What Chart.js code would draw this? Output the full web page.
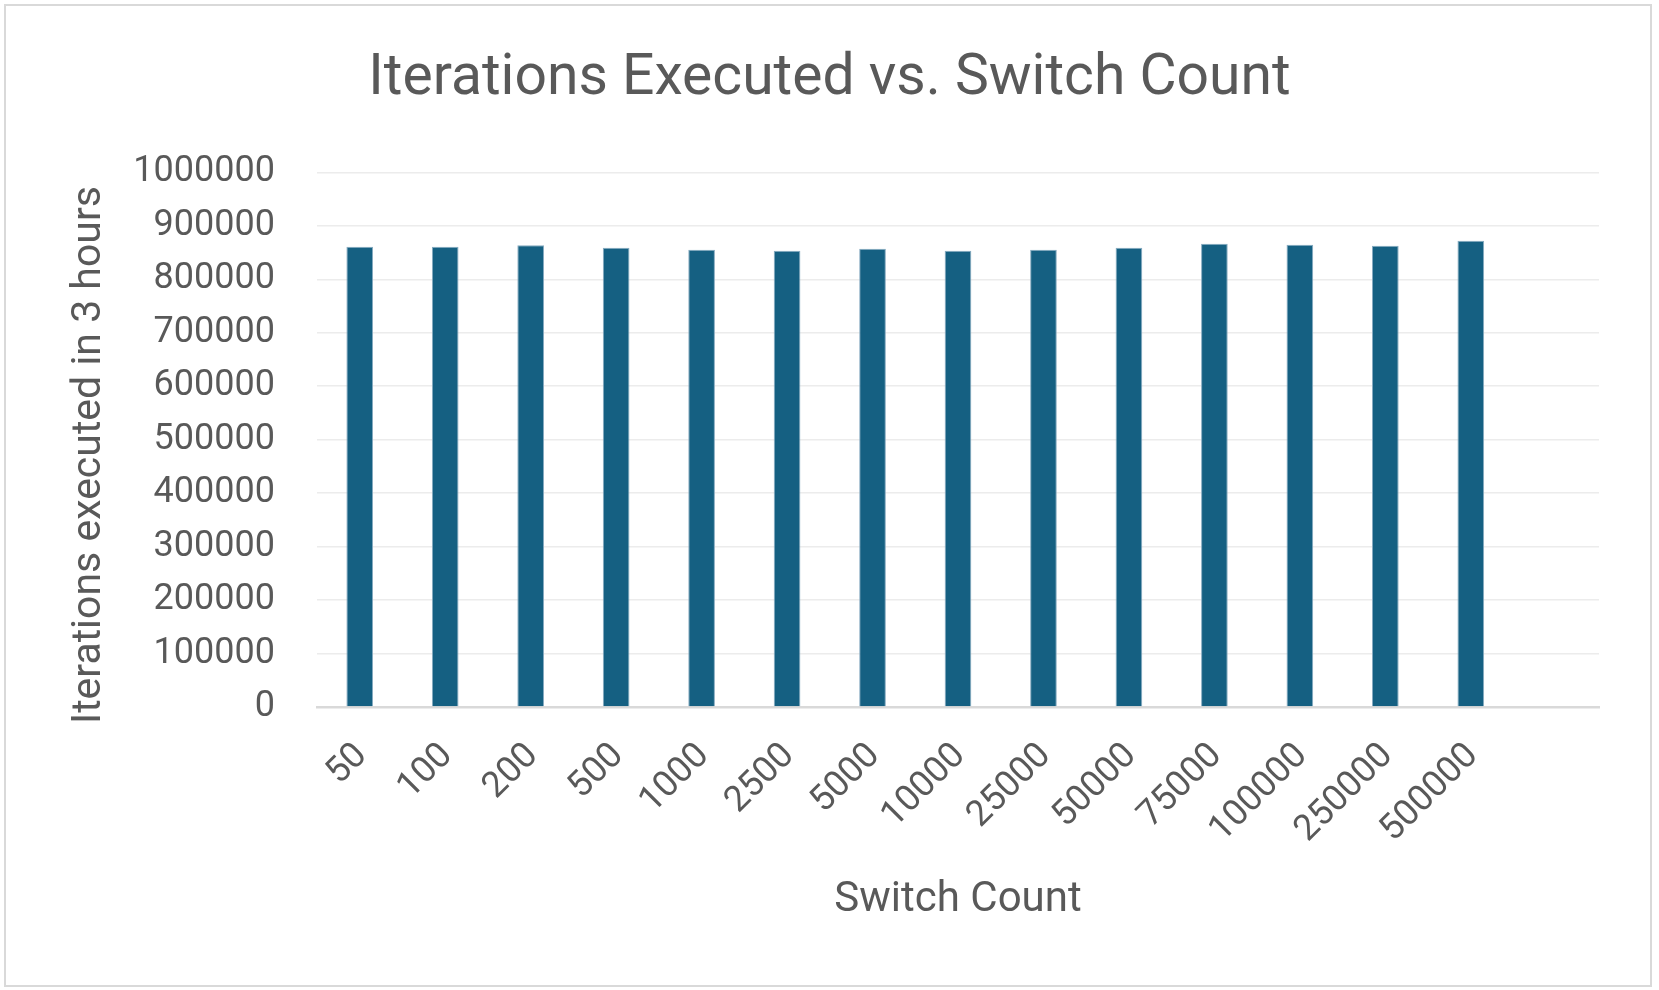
<!DOCTYPE html>
<html>
<head>
<meta charset="utf-8">
<title>Iterations Executed vs. Switch Count</title>
<script src="https://cdn.jsdelivr.net/npm/chart.js@4.4.1/dist/chart.umd.min.js"></script>
<style>
  html, body { margin: 0; padding: 0; background: #fff; }
  #wrap { position: relative; width: 1659px; height: 990px; }
  #frame {
    position: absolute; left: 4px; top: 4px; width: 1648px; height: 983px;
    box-sizing: border-box; border: 2px solid #d9d9d9; pointer-events: none;
  }
</style>
</head>
<body>
<div id="wrap">
  <canvas id="chart" width="1659" height="990"></canvas>
  <div id="frame"></div>
</div>
<script>
// Iterations run in 3 hours for each switch count.
const switchCounts = ["50", "100", "200", "500", "1000", "2500", "5000", "10000",
  "25000", "50000", "75000", "100000", "250000", "500000", ""];
const iterations = [861000, 861000, 863500, 859200, 855500, 853600, 857400, 853600,
  855500, 859200, 866700, 864800, 862900, 872300, null];
const yMin = 0;
const yMax = 1000000;
const yStep = 100000;

const textColor = "#595959";
const fontFamily = "Roboto, 'Noto Sans', sans-serif";
const yTitle = "Iterations executed in 3 hours";

// Excel puts the value-axis title a bit below the plot's middle, so it is drawn here.
const yTitlePlugin = {
  id: "yTitle",
  afterDraw(chart) {
    const ctx = chart.ctx;
    ctx.save();
    ctx.translate(90, 455);
    ctx.rotate(-Math.PI / 2);
    ctx.fillStyle = textColor;
    ctx.font = `41px ${fontFamily}`;
    ctx.textAlign = "center";
    ctx.textBaseline = "middle";
    ctx.fillText(yTitle, 0, 0);
    ctx.restore();
  },
};

new Chart(document.getElementById("chart"), {
  type: "bar",
  data: {
    labels: switchCounts,
    datasets: [
      {
        label: yTitle,
        data: iterations,
        backgroundColor: "#156082",
        borderColor: "#86aac0",
        borderWidth: 1,
        categoryPercentage: 1,
        barPercentage: 0.312,
      },
    ],
  },
  options: {
    responsive: false,
    animation: false,
    devicePixelRatio: 1,
    layout: { padding: 0 },
    plugins: {
      legend: { display: false },
      tooltip: { enabled: false },
      title: {
        display: true,
        text: "Iterations Executed vs. Switch Count",
        color: textColor,
        font: { family: fontFamily, size: 57, weight: "normal" },
        padding: { top: 46, bottom: 58 },
      },
    },
    scales: {
      x: {
        grid: { display: false },
        border: { color: "#d9d9d9", width: 2.5 },
        ticks: {
          color: textColor,
          font: { family: fontFamily, size: 36 },
          minRotation: 45,
          maxRotation: 45,
          padding: 20,
          labelOffset: 2,
          autoSkip: false,
        },
        title: {
          display: true,
          text: "Switch Count",
          color: textColor,
          font: { family: fontFamily, size: 42 },
          padding: { top: 0, bottom: 64 },
        },
        afterFit: (scale) => { scale.height = 283; },
      },
      y: {
        min: yMin,
        max: yMax,
        grid: { color: "#ececec", lineWidth: 1.5, drawTicks: false },
        border: { display: false },
        ticks: {
          stepSize: yStep,
          color: textColor,
          font: { family: fontFamily, size: 36 },
          padding: 42,
          callback: (v) => String(v),
        },
        afterFit: (scale) => { scale.width = 317; },
      },
      // empty strip on the right so the plot ends where Excel's does
      yRight: {
        type: "linear",
        position: "right",
        grid: { display: false },
        border: { display: false },
        ticks: { display: false },
        afterFit: (scale) => { scale.width = 60; },
      },
    },
  },
  plugins: [yTitlePlugin],
});
</script>
</body>
</html>
